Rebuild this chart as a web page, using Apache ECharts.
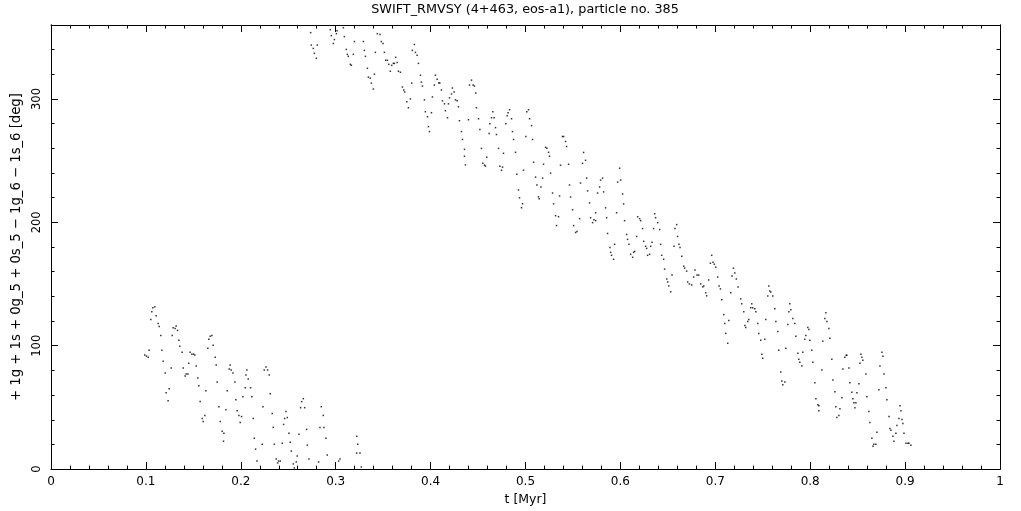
<!DOCTYPE html>
<html><head><meta charset="utf-8">
<script src="https://cdn.jsdelivr.net/npm/echarts@6/dist/echarts.min.js"></script>
<style>html,body{margin:0;padding:0;background:#fff}#c{width:1021px;height:511px}</style>
</head><body><div id="c"></div>
<script>
const titleText = 'SWIFT_RMVSY (4+463, eos-a1), particle no. 385';
const xName = 't [Myr]';
const yName = '+ 1g + 1s + 0g_5 + 0s_5 \u2212 1g_6 \u2212 1s_6 [deg]';
const yLabelValues = [0, 100, 200, 300];

const timeMyr = [
0.0988,0.1006,0.1024,0.1034,0.1052,0.1062,0.1073,0.1094,0.1108,0.1129,0.1140,0.1157,0.1168,0.1182,0.1203,0.1213,0.1234,0.1245,0.1266,0.1277,
0.1287,0.1308,0.1319,0.1333,0.1347,0.1357,0.1382,0.1393,0.1414,0.1424,0.1442,0.1452,0.1466,0.1484,0.1502,0.1516,0.1530,0.1547,0.1558,0.1572,
0.1593,0.1604,0.1621,0.1632,0.1653,0.1663,0.1677,0.1695,0.1709,0.1730,0.1741,0.1751,0.1769,0.1783,0.1804,0.1822,0.1818,0.1843,0.1857,0.1878,
0.1888,0.1899,0.1917,0.1938,0.1948,0.1962,0.1980,0.1994,0.2008,0.2022,0.2047,0.2054,0.2064,0.2078,0.2103,0.2117,0.2131,0.2142,0.2156,0.2170,
0.2226,0.2233,0.2247,0.2265,0.2282,0.2300,0.2310,0.2331,0.2342,0.2353,0.2374,0.2388,0.2398,0.2416,0.2437,0.2451,0.2462,0.2476,0.2490,0.2507,
0.2521,0.2532,0.2553,0.2564,0.2585,0.2595,0.2613,0.2630,0.2641,0.2659,0.2673,0.2694,0.2701,0.2718,0.2820,0.2834,0.2848,0.2869,0.2876,0.2897,
0.2911,0.3031,0.3045,0.3221,0.3232,0.3221,0.3256,0.3270,
0.2736,0.2743,0.2764,0.2775,0.2796,0.2806,0.2943,0.2954,0.2975,0.2986,0.3007,0.3014,0.3081,0.3091,0.3112,0.3123,0.3133,0.3154,0.3165,0.3186,
0.3197,0.3292,0.3302,0.3313,0.3334,0.3344,0.3365,0.3376,0.3397,0.3408,0.3418,0.3439,0.3467,0.3481,0.3499,0.3513,0.3527,0.3545,0.3559,0.3576,
0.3590,0.3608,0.3618,0.3632,0.3647,0.3661,0.3682,0.3703,0.3717,0.3727,0.3749,0.3766,0.3787,0.3801,0.3808,0.3829,0.3840,0.3858,0.3872,0.3893,
0.3903,0.3914,0.3935,0.3945,0.3967,0.3977,0.3988,0.4009,0.4019,0.4040,0.4051,0.4069,0.4086,0.4097,0.4114,0.4125,0.4146,0.4156,0.4178,0.4188,
0.4199,0.4220,0.4230,0.4248,0.4262,0.4279,0.4294,0.4304,0.4325,0.4336,0.4357,0.4357,0.4367,0.4399,0.4410,0.4431,0.4448,0.4462,0.4476,0.4483,
0.4505,0.4519,0.4536,0.4550,0.4568,0.4578,0.4592,0.4617,0.4624,0.4642,0.4656,0.4670,0.4684,0.4694,0.4716,0.4730,0.4747,0.4758,0.4768,0.4793,
0.4807,0.4817,0.4832,0.4853,0.4863,0.4874,0.4895,0.4909,0.4926,0.4937,0.4958,0.4969,0.4979,0.5004,0.5014,0.5032,0.5043,0.5064,0.5074,0.5085,
0.5106,0.5120,0.5137,0.5144,0.5162,0.5180,0.5190,0.5211,0.5225,0.5243,0.5253,
0.5264,0.5285,0.5296,0.5317,0.5327,0.5348,0.5359,0.5369,0.5390,0.5401,0.5422,0.5433,0.5454,0.5464,0.5475,0.5496,0.5507,0.5528,0.5542,0.5570,
0.5580,0.5601,0.5612,0.5633,0.5644,0.5654,0.5675,0.5686,0.5707,0.5721,0.5739,0.5739,0.5760,0.5781,0.5791,0.5812,0.5823,0.5844,0.5855,0.5865,
0.5890,0.5897,0.5907,0.5928,0.5939,0.5960,0.5971,0.5992,0.6002,0.6023,0.6034,0.6044,0.6066,0.6076,0.6090,0.6108,0.6129,0.6139,0.6150,0.6171,
0.6182,0.6203,0.6213,0.6234,0.6245,0.6266,0.6277,0.6287,0.6308,0.6319,0.6333,0.6350,0.6361,0.6371,0.6393,0.6414,0.6424,0.6435,0.6456,0.6466,
0.6488,0.6498,0.6509,0.6530,0.6544,0.6565,0.6575,0.6593,0.6603,0.6617,0.6628,0.6646,0.6667,0.6677,0.6698,0.6709,0.6727,0.6751,0.6772,0.6786,
0.6807,0.6825,0.6846,0.6867,0.6878,0.6899,0.6909,0.6930,0.6948,0.6962,0.6976,0.6990,0.7004,0.7025,0.7040,0.7054,0.7163,0.7177,0.7191,0.7205,
0.7222,0.7240,
0.7068,0.7089,0.7100,0.7110,0.7131,0.7142,0.7268,0.7279,0.7300,0.7311,0.7321,0.7342,0.7353,0.7374,0.7384,0.7395,0.7416,0.7427,0.7448,0.7458,
0.7479,0.7490,0.7500,0.7522,0.7532,0.7553,0.7564,0.7574,0.7585,0.7606,0.7627,0.7638,0.7659,0.7669,0.7690,0.7701,0.7711,0.7733,0.7743,0.7764,
0.7775,0.7785,0.7796,0.7817,0.7838,0.7849,0.7870,0.7880,0.7891,0.7912,0.7922,0.7943,0.7954,0.7975,0.7986,0.7996,0.8017,0.8028,0.8049,0.8060,
0.8081,0.8091,0.8091,0.8123,0.8133,0.8154,0.8165,0.8176,0.8197,0.8207,0.8228,0.8239,0.8260,0.8270,0.8281,0.8302,0.8313,0.8334,0.8344,0.8365,
0.8380,0.8386,0.8408,0.8418,0.8439,0.8450,0.8460,0.8471,0.8481,0.8492,0.8513,0.8524,0.8534,0.8545,0.8555,0.8587,0.8597,0.8618,0.8629,0.8650,
0.8661,0.8671,0.8692,0.8703,0.8724,0.8735,0.8756,0.8766,0.8777,0.8798,0.8808,0.8830,0.8840,0.8851,0.8872,0.8882,0.8903,0.8914,0.8935,0.8946,
0.8956,0.8967,0.8977,0.8988,0.9009,0.9030,0.9040,0.9061
];

const angleDeg = [
92.4,91.6,90.7,96.4,121.2,127.6,130.8,131.6,124.4,118.0,115.6,108.4,96.4,87.5,77.9,61.9,55.5,65.1,81.9,108.4,
114.5,114.0,116.1,112.4,104.4,99.6,94.8,81.9,75.5,77.1,77.1,85.9,94.8,93.2,93.2,92.4,83.5,73.9,67.5,54.7,
41.0,38.6,43.5,63.5,98.0,105.2,107.6,108.4,100.4,90.7,84.3,70.7,50.6,38.6,30.6,29.0,22.6,48.2,63.5,81.1,
84.3,80.3,77.9,70.7,56.3,47.4,43.5,37.8,42.6,58.7,65.9,76.3,80.3,73.1,65.9,58.7,41.0,25.0,16.2,6.5,
20.2,50.6,80.3,82.7,80.3,76.3,61.1,45.0,33.8,20.2,8.2,5.0,6.5,6.5,21.0,36.2,41.0,46.6,41.8,29.0,
21.8,14.6,4.2,1.0,5.8,10.6,28.2,49.8,54.7,57.1,49.8,32.2,19.4,8.2,5.8,33.8,50.6,43.5,33.8,25.0,
11.4,6.5,8.2,26.6,20.2,13.0,13.0,1.7,
353.8,343.7,341.0,337.0,333.0,343.7,356.2,351.4,345.0,348.2,353.0,355.4,357.8,350.6,340.2,336.2,334.6,328.1,327.3,336.2,
346.6,346.6,339.4,334.6,324.9,317.7,316.9,312.9,308.1,320.1,337.8,353.0,352.2,346.6,345.0,337.8,331.4,331.4,328.1,322.5,
327.3,328.9,328.9,333.8,329.7,322.5,321.7,309.7,307.3,305.7,297.7,292.9,300.1,312.9,339.4,344.2,337.8,335.4,328.9,319.3,
313.7,310.5,299.3,289.7,285.6,277.6,273.6,288.9,301.7,311.3,319.3,316.1,312.9,312.9,307.3,298.5,296.1,290.5,284.8,296.1,
300.9,304.1,308.9,305.7,299.3,298.5,293.7,282.4,273.6,267.2,259.2,253.6,246.6,283.2,311.3,315.3,311.3,310.5,304.9,292.9,
284.0,275.2,260.0,248.0,246.4,245.6,252.8,272.0,280.0,284.8,289.7,284.8,276.8,271.2,260.0,245.6,242.3,244.8,256.0,280.0,
286.4,288.9,291.3,284.0,273.6,267.2,256.8,239.1,226.3,219.9,211.9,215.1,242.3,269.6,289.7,291.3,284.0,278.4,267.2,248.8,
236.7,230.3,220.7,219.1,228.7,235.9,247.2,260.8,260.0,256.8,253.6,
239.9,223.8,215.0,205.4,197.4,204.6,221.4,246.3,269.6,269.6,265.6,261.5,247.1,230.3,220.6,210.2,197.4,191.8,192.6,203.0,
231.9,247.9,256.7,250.3,235.9,225.5,215.8,203.8,199.8,202.2,201.4,207.8,223.8,228.7,234.3,235.9,224.7,211.8,203.8,191.0,
179.7,175.7,173.3,170.1,182.2,207.8,232.7,243.9,234.3,223.0,215.0,201.4,190.2,186.2,182.2,174.1,171.7,175.7,176.5,188.6,
204.6,203.0,201.4,195.0,184.6,180.6,178.9,173.3,174.1,180.6,183.8,195.0,207.0,203.8,199.8,194.2,182.2,173.3,170.1,162.1,
154.1,151.7,148.5,143.7,157.3,180.6,195.0,198.2,188.6,182.2,179.7,172.5,164.5,162.9,160.5,151.7,150.1,149.3,155.7,161.3,
157.3,157.3,150.1,147.7,148.5,142.9,140.5,153.3,166.9,173.3,167.7,166.1,163.7,155.7,148.5,146.1,142.9,156.5,162.9,158.9,
154.1,147.7,
137.2,125.2,118.0,110.0,102.0,120.4,138.0,134.0,127.6,116.4,114.8,119.6,121.2,130.8,134.0,130.8,130.0,127.6,118.0,110.0,
104.4,93.1,89.9,105.2,121.2,140.4,148.5,144.4,143.6,140.4,130.0,119.6,111.6,96.3,78.7,71.5,68.3,70.7,97.9,117.2,
127.6,134.0,129.2,122.0,118.0,107.6,93.9,89.1,86.7,83.5,94.7,105.2,108.4,114.8,113.2,104.4,96.3,86.7,69.9,57.0,
52.2,51.4,47.4,80.3,103.6,122.0,126.8,119.6,114.0,106.0,89.1,72.3,62.7,50.6,41.8,43.4,49.0,57.8,81.1,90.7,
92.3,92.3,81.9,69.9,62.3,57.0,53.8,49.8,53.8,61.9,69.1,85.9,93.1,90.7,88.3,77.1,58.6,46.6,37.8,25.0,
18.5,20.2,20.2,29.8,64.3,83.5,94.7,91.5,77.1,65.9,56.2,42.6,33.0,31.4,26.6,22.6,29.0,35.4,41.0,51.4,
47.4,40.2,37.0,29.0,21.0,21.0,21.0,19.4
];

const points = timeMyr.map((t, i) => [t, angleDeg[i]]);

const FONT = 'DejaVu Sans';
const black = '#000';
const ls = { color: black, width: 1 };

function xAxisDef(pos, labels) {
  return {
    type: 'value', min: 0, max: 1, interval: 0.1, position: pos,
    axisLine: { show: true, onZero: false, lineStyle: ls },
    axisTick: { show: true, inside: true, length: 7, lineStyle: ls },
    minorTick: { show: true, splitNumber: 5, length: 3.5, lineStyle: ls },
    splitLine: { show: false }, minorSplitLine: { show: false },
    axisLabel: labels ? {
      show: true, fontFamily: FONT, fontSize: 12, color: black, margin: 7,
      formatter: v => { const r = Math.round(v * 10) / 10; return (r === 0 || r === 1) ? String(r) : r.toFixed(1); }
    } : { show: false },
    name: labels ? xName : '', nameLocation: 'middle', nameGap: 22,
    nameTextStyle: { fontFamily: FONT, fontSize: 12.5, color: black }
  };
}
function yAxisDef(pos, interval, len, labels) {
  return {
    type: 'value', min: 0, max: 360, interval: interval, position: pos,
    axisLine: { show: true, onZero: false, lineStyle: ls },
    axisTick: { show: true, inside: true, length: len, lineStyle: ls },
    splitLine: { show: false },
    axisLabel: labels ? {
      show: true, rotate: 90, fontFamily: FONT, fontSize: 11.5, color: black, margin: 8,
      formatter: v => (yLabelValues.indexOf(v) >= 0 ? String(v) : '')
    } : { show: false },
    name: labels ? yName : '', nameLocation: 'middle', nameGap: 26, nameRotate: 90,
    nameTextStyle: { fontFamily: FONT, fontSize: 13.2, color: black }
  };
}

const chart = echarts.init(document.getElementById('c'), null, { renderer: 'canvas' });
chart.setOption({
  animation: false,
  backgroundColor: '#fff',
  grid: { left: 51, right: 21, top: 25, bottom: 37, containLabel: false },
  graphic: [{
    type: 'text', x: 525, y: 3.5,
    style: { text: titleText, textAlign: 'center', textVerticalAlign: 'top', fontFamily: FONT, fontSize: 12.8, fill: black }
  }],
  xAxis: [xAxisDef('bottom', true), xAxisDef('top', false)],
  yAxis: [
    yAxisDef('left', 100, 7, true),
    yAxisDef('left', 20, 3.5, false),
    yAxisDef('right', 100, 7, false),
    yAxisDef('right', 20, 3.5, false)
  ],
  series: [{
    type: 'scatter', data: points, xAxisIndex: 0, yAxisIndex: 0,
    symbol: 'rect', symbolSize: 1.5, silent: true,
    itemStyle: { color: black }
  }]
});
</script>
</body></html>
